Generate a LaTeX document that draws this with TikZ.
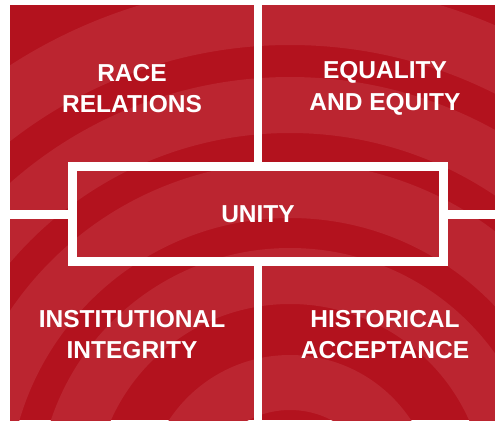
\documentclass[tikz,border=0pt]{standalone}
\usepackage{fontspec}
\setmainfont{Liberation Sans}
\definecolor{unityred}{RGB}{179,18,30}
\definecolor{swoosh}{RGB}{187,37,48}

\begin{document}
\begin{tikzpicture}[
x=1pt, y=-1pt,
node distance=253pt,
pillar/.style={text=white, align=center, font=\bfseries\fontsize{24.5}{31.5}\selectfont},
core/.style={pillar, draw=white, line width=9pt, minimum width=371pt, minimum height=95pt},
gap/.style={draw=white, line width=8.5pt}
]
\useasboundingbox (0,0) rectangle (495,421);

% Background with swooshes
\fill[unityred] (10,5) rectangle (495,420);
\begin{scope}
\clip (10,5) rectangle (495,420);
\foreach \outer/\inner in {517/455, 423/367, 338/282, 252/196, 145/90}
  \fill[swoosh, even odd rule] (290,500) circle[radius=\outer pt] circle[radius=\inner pt];
\end{scope}

% Define nodes
\node (unity) [core] at (258,214) {UNITY};
\node (race) [pillar] at (132,88.5) {RACE\\RELATIONS};
\node (equality) [pillar, right of=race] {EQUALITY\\AND EQUITY};
\node (institutional) [pillar, below of=race, yshift=7pt] {INSTITUTIONAL\\INTEGRITY};
\node (historical) [pillar, right of=institutional] {HISTORICAL\\ACCEPTANCE};

% Gaps
\coordinate (top) at (258,0);
\coordinate (bottom) at (258,421);
\coordinate (left) at (0,214.5);
\coordinate (right) at (495,214.5);
\draw [gap] (unity.north) -- (top);
\draw [gap] (unity.south) -- (bottom);
\draw [gap] (unity.west |- left) -- (left);
\draw [gap] (unity.east |- right) -- (right);

\end{tikzpicture}
\end{document}
